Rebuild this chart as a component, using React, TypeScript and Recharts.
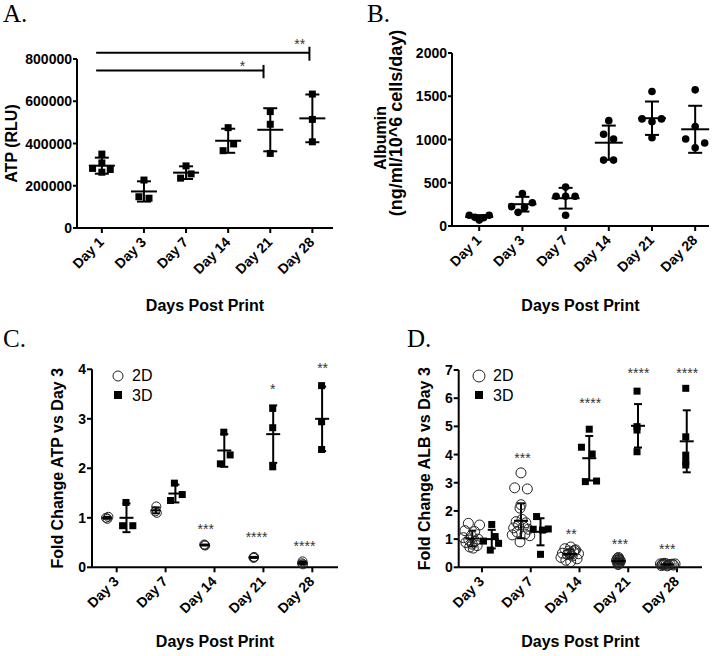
import React from 'react';
import {
  ScatterChart,
  Scatter,
  XAxis,
  YAxis,
  ErrorBar,
  ReferenceLine,
  ReferenceDot,
  Legend,
} from 'recharts';

const FONT = '"Liberation Sans", Arial, Helvetica, sans-serif';
const SERIF = '"Liberation Serif", "Times New Roman", serif';
const INK = '#000';

const daysAB = ['Day 1', 'Day 3', 'Day 7', 'Day 14', 'Day 21', 'Day 28'];
const daysCD = ['Day 3', 'Day 7', 'Day 14', 'Day 21', 'Day 28'];

// A. ATP (RLU) — replicates as [offset from day, value]
const atpReps = [
  [[0, 350000], [0, 308000], [-0.22, 282000], [0.2, 277000], [0, 264000]],
  [[0, 227000], [-0.12, 148000], [0.12, 141000]],
  [[0, 294000], [-0.13, 236000], [0.12, 256000]],
  [[0, 475000], [-0.12, 366000], [0.13, 398000]],
  [[0, 551000], [0, 491000], [0, 353000]],
  [[0, 634000], [0, 514000], [0, 408000]],
];
const atpMean = [295000, 173000, 262000, 413000, 465000, 519000];
const atpSd = [38000, 48000, 30000, 57000, 102000, 113000];
const atpBrackets = [
  { from: -0.135, to: 4.93, y: 830000, top: 858000, bottom: 792000 },
  { from: -0.135, to: 3.84, y: 745000, top: 772000, bottom: 709000 },
];
const atpStars = [
  { x: 4.7, y: 882000, label: '**' },
  { x: 3.34, y: 780000, label: '*' },
];

// B. Albumin
const albReps = [
  [[-0.23, 125], [-0.1, 100], [0, 68], [0.1, 95], [0.23, 125]],
  [[0, 376], [-0.25, 224], [0.05, 215], [0.23, 268], [-0.1, 158]],
  [[0, 450], [-0.22, 344], [0, 344], [0.22, 344], [0, 124]],
  [[0, 1218], [-0.12, 1060], [0.11, 1006], [-0.12, 762], [0.11, 762]],
  [[0, 1555], [-0.23, 1238], [0, 1205], [0.22, 1238], [0, 1021]],
  [[0, 1574], [0, 1149], [-0.22, 1006], [0.22, 960], [0, 905]],
];
const albMean = [104, 252, 321, 963, 1246, 1118];
const albSd = [22, 85, 120, 198, 193, 272];

// C. Fold change ATP vs day 3
const atp2dReps = [
  [[-0.22, 1.0], [-0.19, 0.98], [-0.17, 1.02]],
  [[-0.19, 1.23], [-0.21, 1.13], [-0.18, 1.1]],
  [[-0.2, 0.45], [-0.19, 0.44], [-0.21, 0.46]],
  [[-0.2, 0.19], [-0.2, 0.2], [-0.19, 0.21]],
  [[-0.2, 0.12], [-0.21, 0.08], [-0.19, 0.06]],
];
const atp2dMean = [1.0, 1.15, 0.45, 0.2, 0.09];
const atp2dSd = [0.02, 0.06, 0.01, 0.01, 0.03];
const atp3dReps = [
  [[0.19, 1.31], [0.12, 0.84], [0.33, 0.84]],
  [[0.18, 1.7], [0.1, 1.35], [0.34, 1.47]],
  [[0.19, 2.73], [0.12, 2.09], [0.32, 2.27]],
  [[0.19, 3.21], [0.19, 2.82], [0.19, 2.03]],
  [[0.19, 3.67], [0.19, 2.94], [0.19, 2.38]],
];
const atp3dMean = [1.0, 1.49, 2.36, 2.69, 3.0];
const atp3dSd = [0.29, 0.18, 0.33, 0.58, 0.65];
const atpFoldStars = [
  { x: 1.82, y: 0.82, label: '***' },
  { x: 2.86, y: 0.67, label: '****' },
  { x: 3.84, y: 0.48, label: '****' },
  { x: 3.19, y: 3.65, label: '*' },
  { x: 4.21, y: 4.07, label: '**' },
];

// D. Fold change ALB vs day 3
const alb2dReps = [
  [[-0.28, 1.56], [-0.05, 1.5], [-0.35, 1.3], [-0.15, 1.27], [-0.22, 1.12], [-0.38, 1.05], [-0.08, 1.0],
    [-0.27, 0.97], [-0.14, 0.93], [-0.33, 0.88], [-0.2, 0.82], [-0.1, 0.77], [-0.25, 0.72], [-0.18, 0.68]],
  [[-0.2, 3.35], [-0.33, 2.82], [-0.07, 2.78], [-0.2, 2.22], [-0.22, 2.1], [-0.18, 1.7], [-0.3, 1.62],
    [-0.1, 1.58], [-0.25, 1.5], [-0.15, 1.45], [-0.35, 1.4], [-0.05, 1.35], [-0.28, 1.25], [-0.12, 1.18],
    [-0.38, 1.15], [-0.02, 1.12], [-0.22, 0.9]],
  [[-0.18, 0.72], [-0.3, 0.66], [-0.08, 0.62], [-0.22, 0.58], [-0.12, 0.55], [-0.35, 0.5], [-0.02, 0.48],
    [-0.25, 0.45], [-0.15, 0.4], [-0.38, 0.35], [-0.05, 0.3], [-0.28, 0.25], [-0.18, 0.2], [-0.2, 0.5], [-0.1, 0.6]],
  [[-0.2, 0.35], [-0.22, 0.32], [-0.18, 0.28], [-0.24, 0.25], [-0.16, 0.22], [-0.2, 0.2], [-0.22, 0.18],
    [-0.18, 0.15], [-0.2, 0.12], [-0.21, 0.1], [-0.19, 0.25], [-0.2, 0.3]],
  [[-0.34, 0.12], [-0.3, 0.1], [-0.25, 0.14], [-0.18, 0.08], [-0.1, 0.11], [-0.04, 0.12], [-0.32, 0.06],
    [-0.27, 0.09], [-0.2, 0.05], [-0.14, 0.1], [-0.07, 0.08], [-0.22, 0.12], [-0.29, 0.13]],
];
const alb2dMean = [1.02, 1.65, 0.47, 0.22, 0.1];
const alb2dSd = [0.28, 0.62, 0.16, 0.08, 0.03];
const alb3dReps = [
  [[0.2, 1.52], [0.03, 0.93], [0.27, 1.09], [0.17, 0.61], [0.34, 0.85]],
  [[0.12, 1.8], [0.05, 1.35], [0.24, 1.32], [0.36, 1.36], [0.2, 0.46]],
  [[0.04, 4.26], [0.2, 4.9], [0.26, 4.02], [0.12, 3.04], [0.35, 3.06]],
  [[0.18, 6.25], [0.18, 4.99], [0.18, 4.87], [0.18, 4.1]],
  [[0.18, 6.35], [0.18, 4.63], [0.18, 3.98], [0.18, 3.75], [0.18, 3.63]],
];
const alb3dMean = [1.0, 1.26, 3.87, 5.02, 4.47];
const alb3dSd = [0.33, 0.48, 0.79, 0.77, 1.1];
const albFoldStars = [
  { x: 0.83, y: 3.96, label: '***' },
  { x: 1.83, y: 1.26, label: '**' },
  { x: 2.22, y: 5.91, label: '****' },
  { x: 2.83, y: 0.91, label: '***' },
  { x: 3.21, y: 6.99, label: '****' },
  { x: 3.8, y: 0.75, label: '***' },
  { x: 4.21, y: 6.99, label: '****' },
];

const legendItems = [
  { label: '2D', kind: 'ring' },
  { label: '3D', kind: 'square' },
];

const toPoints = (reps: number[][][]) =>
  reps.flatMap((day, i) => day.map(([dx, v]) => ({ x: i + dx, y: v })));
const toMeans = (mean: number[], sd: number[], dx = 0) =>
  mean.map((m, i) => ({ x: i + dx, y: m, sd: sd[i] }));

const square = (s: number) => (p: any) =>
  <rect x={p.cx - s / 2} y={p.cy - s / 2} width={s} height={s} fill={INK} />;
const dot = (r: number) => (p: any) => <circle cx={p.cx} cy={p.cy} r={r} fill={INK} />;
const ring = (r: number) => (p: any) =>
  <circle cx={p.cx} cy={p.cy} r={r} fill="none" stroke="#222" strokeWidth={1} />;
const meanBar = (hw: number) => (p: any) =>
  <line x1={p.cx - hw} x2={p.cx + hw} y1={p.cy} y2={p.cy} stroke={INK} strokeWidth={2} />;

const dayTick = (labels: string[]) => (p: any) => {
  const x = p.x + 3;
  const y = p.y + 8;
  return (
    <text x={x} y={y} textAnchor="end" transform={`rotate(-45 ${x} ${y})`}
      fontSize={14} fontWeight={700} fontFamily={FONT} fill={INK}>
      {labels[p.payload.value]}
    </text>
  );
};

const valueTick = (p: any) => (
  <text x={p.x} y={p.y} dy={5} textAnchor="end" fontSize={14} fontWeight={700} fontFamily={FONT} fill={INK}>
    {p.payload.value}
  </text>
);

const XTitle = ({ viewBox, dy }: any) => (
  <text x={viewBox.x + viewBox.width / 2} y={viewBox.y + dy} textAnchor="middle"
    fontSize={16} fontWeight={700} fontFamily={FONT} fill={INK}>
    Days Post Print
  </text>
);

const YTitle = ({ viewBox, text, dx }: any) => {
  const x = viewBox.x + dx;
  const y = viewBox.y + viewBox.height / 2;
  return (
    <text x={x} y={y} textAnchor="middle" transform={`rotate(-90 ${x} ${y})`}
      fontSize={16} fontWeight={700} fontFamily={FONT} fill={INK}>
      {text}
    </text>
  );
};

// rotated title drawn outside the svg, centred on (cx, cy)
const SideTitle = ({ text, cx, cy, size }: any) => (
  <div style={{
    position: 'absolute', left: cx, top: cy, transform: 'translate(-50%, -50%) rotate(-90deg)',
    whiteSpace: 'nowrap', fontFamily: FONT, fontWeight: 700, fontSize: size, lineHeight: 1, color: INK,
  }}>
    {text}
  </div>
);

const StarText = ({ cx, cy, label }: any) => (
  <text x={cx} y={cy + 7.5} textAnchor="middle" fontSize={14} fontFamily={FONT} fill="#333">
    {label}
  </text>
);

const LegendBox = ({ r }: { r: number }) => (
  <div style={{ fontFamily: FONT, fontSize: 16, color: INK, lineHeight: '19.5px' }}>
    {legendItems.map((it) => (
      <div key={it.label} style={{ display: 'flex', alignItems: 'center', height: 19.5 }}>
        <svg width={14} height={14} style={{ marginRight: 7 }}>
          {it.kind === 'ring'
            ? <circle cx={7} cy={7} r={r} fill="none" stroke="#222" strokeWidth={1} />
            : <rect x={3} y={3} width={8} height={8} fill={INK} />}
        </svg>
        <span>{it.label}</span>
      </div>
    ))}
  </div>
);

const line2 = { stroke: INK, strokeWidth: 2 };

const stars = (list: any[]) =>
  list.map((s, i) => (
    <ReferenceDot key={`s${i}`} x={s.x} y={s.y} r={0} ifOverflow="visible"
      shape={(p: any) => <StarText cx={p.cx} cy={p.cy} label={s.label} />} />
  ));

const Letter = ({ text, left, top }: any) => (
  <div style={{ position: 'absolute', left, top, fontFamily: SERIF, fontSize: 25, lineHeight: '25px', color: INK }}>
    {text}
  </div>
);

export default function App() {
  return (
    <div style={{ position: 'absolute', left: 0, top: 0, width: 724, height: 656, background: '#fff' }}>
      <Letter text="A." left={3} top={1} />
      <Letter text="B." left={367} top={1} />
      <Letter text="C." left={3} top={326} />
      <Letter text="D." left={407} top={326} />

      {/* A */}
      <div style={{ position: 'absolute', left: 0, top: 0 }}>
        <ScatterChart width={362} height={330} margin={{ top: 59, right: 29, left: 0, bottom: 0 }}>
          <XAxis type="number" dataKey="x" domain={[-0.59, 5.49]} ticks={[0, 1, 2, 3, 4, 5]} interval={0}
            height={102} tickSize={5} tickMargin={2} axisLine={line2} tickLine={line2}
            tick={dayTick(daysAB)} label={<XTitle dy={82.5} />} />
          <YAxis type="number" dataKey="y" domain={[0, 800000]} ticks={[0, 200000, 400000, 600000, 800000]}
            width={77} tickSize={4} tickMargin={1} axisLine={line2} tickLine={line2} tick={valueTick}
            label={<YTitle text="ATP (RLU)" dx={17} />} />
          <Scatter data={toPoints(atpReps)} shape={square(7)} isAnimationActive={false} />
          <Scatter data={toMeans(atpMean, atpSd)} shape={meanBar(13)} isAnimationActive={false}>
            <ErrorBar dataKey="sd" direction="y" width={7} stroke={INK} strokeWidth={2} isAnimationActive={false} />
          </Scatter>
          {atpBrackets.map((b, i) => (
            <ReferenceLine key={`h${i}`} segment={[{ x: b.from, y: b.y }, { x: b.to, y: b.y }]}
              stroke={INK} strokeWidth={2} ifOverflow="visible" />
          ))}
          {atpBrackets.map((b, i) => (
            <ReferenceLine key={`v${i}`} segment={[{ x: b.to, y: b.top }, { x: b.to, y: b.bottom }]}
              stroke={INK} strokeWidth={2} ifOverflow="visible" />
          ))}
          {stars(atpStars)}
        </ScatterChart>
      </div>

      {/* B */}
      <div style={{ position: 'absolute', left: 362, top: 0 }}>
        <ScatterChart width={362} height={330} margin={{ top: 53, right: 15, left: 0, bottom: 0 }}>
          <XAxis type="number" dataKey="x" domain={[-0.63, 5.32]} ticks={[0, 1, 2, 3, 4, 5]} interval={0}
            height={104} tickSize={5} tickMargin={2} axisLine={line2} tickLine={line2}
            tick={dayTick(daysAB)} label={<XTitle dy={84.5} />} />
          <YAxis type="number" dataKey="y" domain={[0, 2000]} ticks={[0, 500, 1000, 1500, 2000]}
            width={90} tickSize={4} tickMargin={1} axisLine={line2} tickLine={line2} tick={valueTick} />
          <Scatter data={toPoints(albReps)} shape={dot(3.8)} isAnimationActive={false} />
          <Scatter data={toMeans(albMean, albSd)} shape={meanBar(14)} isAnimationActive={false}>
            <ErrorBar dataKey="sd" direction="y" width={7} stroke={INK} strokeWidth={2} isAnimationActive={false} />
          </Scatter>
        </ScatterChart>
        <SideTitle text="Albumin" cx={18.5} cy={138} size={16} />
        <SideTitle text="(ng/ml/10^6 cells/day)" cx={33.5} cy={123} size={18} />
      </div>

      {/* C */}
      <div style={{ position: 'absolute', left: 0, top: 330 }}>
        <ScatterChart width={362} height={326} margin={{ top: 39.3, right: 24, left: 0, bottom: 0 }}>
          <XAxis type="number" dataKey="x" domain={[-0.505, 4.525]} ticks={[0, 1, 2, 3, 4]} interval={0}
            height={88.7} tickSize={5} tickMargin={2} axisLine={line2} tickLine={line2}
            tick={dayTick(daysCD)} label={<XTitle dy={79.7} />} />
          <YAxis type="number" dataKey="y" domain={[0, 4]} ticks={[0, 1, 2, 3, 4]}
            width={92} tickSize={5} tickMargin={1} axisLine={line2} tickLine={line2} tick={valueTick}
            label={<YTitle text="Fold Change ATP vs Day 3" dx={63} />} />
          <Scatter data={toPoints(atp2dReps)} shape={ring(4.5)} isAnimationActive={false} />
          <Scatter data={toPoints(atp3dReps)} shape={square(7)} isAnimationActive={false} />
          <Scatter data={toMeans(atp2dMean, atp2dSd, -0.2)} shape={meanBar(5)} isAnimationActive={false}>
            <ErrorBar dataKey="sd" direction="y" width={4} stroke={INK} strokeWidth={2} isAnimationActive={false} />
          </Scatter>
          <Scatter data={toMeans(atp3dMean, atp3dSd, 0.2)} shape={meanBar(7)} isAnimationActive={false}>
            <ErrorBar dataKey="sd" direction="y" width={4} stroke={INK} strokeWidth={2} isAnimationActive={false} />
          </Scatter>
          {stars(atpFoldStars)}
          <Legend layout="vertical" align="center" verticalAlign="middle"
            wrapperStyle={{ left: 111, top: 36, width: 'auto', height: 'auto' }}
            content={() => <LegendBox r={5} />} />
        </ScatterChart>
      </div>

      {/* D */}
      <div style={{ position: 'absolute', left: 362, top: 330 }}>
        <ScatterChart width={362} height={326} margin={{ top: 40, right: 22, left: 0, bottom: 0 }}>
          <XAxis type="number" dataKey="x" domain={[-0.478, 4.513]} ticks={[0, 1, 2, 3, 4]} interval={0}
            height={88.7} tickSize={5} tickMargin={2} axisLine={line2} tickLine={line2}
            tick={dayTick(daysCD)} label={<XTitle dy={79.7} />} />
          <YAxis type="number" dataKey="y" domain={[0, 7]} ticks={[0, 1, 2, 3, 4, 5, 6, 7]}
            width={96.7} tickSize={5} tickMargin={1} axisLine={line2} tickLine={line2} tick={valueTick}
            label={<YTitle text="Fold Change ALB vs Day 3" dx={68} />} />
          <Scatter data={toPoints(alb2dReps)} shape={ring(5)} isAnimationActive={false} />
          <Scatter data={toPoints(alb3dReps)} shape={square(7)} isAnimationActive={false} />
          <Scatter data={toMeans(alb2dMean, alb2dSd, -0.2)} shape={meanBar(7)} isAnimationActive={false}>
            <ErrorBar dataKey="sd" direction="y" width={4} stroke={INK} strokeWidth={2} isAnimationActive={false} />
          </Scatter>
          <Scatter data={toMeans(alb3dMean, alb3dSd, 0.2)} shape={meanBar(7)} isAnimationActive={false}>
            <ErrorBar dataKey="sd" direction="y" width={4} stroke={INK} strokeWidth={2} isAnimationActive={false} />
          </Scatter>
          {stars(albFoldStars)}
          <Legend layout="vertical" align="center" verticalAlign="middle"
            wrapperStyle={{ left: 110, top: 36, width: 'auto', height: 'auto' }}
            content={() => <LegendBox r={6} />} />
        </ScatterChart>
      </div>
    </div>
  );
}
